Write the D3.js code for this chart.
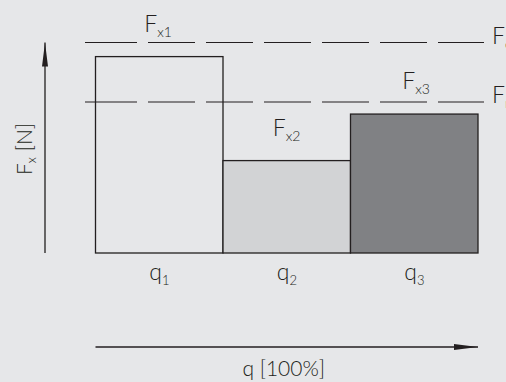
<!DOCTYPE html>
<html><head><meta charset="utf-8">
<script src="https://cdn.jsdelivr.net/npm/d3@7"></script>
<style>
html,body{margin:0;padding:0;background:#e6e7e9;}
svg{display:block;font-family:Lato,"Open Sans",sans-serif;font-weight:300;}
</style></head>
<body><div id="chart"></div>
<script>
const categories = ["q1","q2","q3"];
const catSubs = ["1","2","3"];
const forceValues = [93.3, 43.9, 66.0];
const forceLabels = ["x1","x2","x3"];
const barFills = ["#e6e7e9","#d2d3d5","#808184"];
const refLines = [{name:"c", value:100},{name:"n", value:71.7}];
const yLabel = ["F","x"," [N]"];
const xLabel = "q [100%]";

const W=506,H=382;
const svg=d3.select("#chart").append("svg").attr("width",W).attr("height",H);
svg.append("rect").attr("width",W).attr("height",H).attr("fill","#e6e7e9");

const x=d3.scaleBand().domain(categories).range([95.5,478]).padding(0);
const y=d3.scaleLinear().domain([0,100]).range([253,42.5]);
const ink="#231f20";

// bars
svg.selectAll("rect.bar").data(categories).join("rect").attr("class","bar")
 .attr("x",d=>x(d)).attr("width",x.bandwidth())
 .attr("y",(d,i)=>y(forceValues[i])).attr("height",(d,i)=>y(0)-y(forceValues[i]))
 .attr("fill",(d,i)=>barFills[i]).attr("stroke",ink).attr("stroke-width",1.3);

// reference dashed lines
svg.selectAll("line.ref").data(refLines).join("line").attr("class","ref")
 .attr("x1",85).attr("x2",484).attr("y1",d=>y(d.value)).attr("y2",d=>y(d.value))
 .attr("stroke",ink).attr("stroke-width",1.1)
 .attr("stroke-dasharray","52,11,47,11,47,11,47,11,47,11,47,11,47");
refLines.forEach(d=>{
  const t=svg.append("text").attr("x",492).attr("y",y(d.value)+1).attr("fill",ink).attr("font-size",23);
  t.append("tspan").text("F");
  t.append("tspan").attr("font-size",14).attr("dy",5).text(d.name);
});

// bar force labels
const labelDx=[-1,0,2];
categories.forEach((c,i)=>{
  const cx=x(c)+x.bandwidth()/2;
  const t=svg.append("text").attr("x",cx-14+labelDx[i]).attr("y",y(forceValues[i])-25).attr("fill",ink).attr("font-size",23);
  t.append("tspan").text("F");
  t.append("tspan").attr("font-size",14).attr("dy",5).text(forceLabels[i]);
});

// category labels
categories.forEach((c,i)=>{
  const cx=x(c)+x.bandwidth()/2;
  const t=svg.append("text").attr("x",cx-10).attr("y",280).attr("fill",ink).attr("font-size",23);
  t.append("tspan").text("q");
  t.append("tspan").attr("font-size",13).attr("dy",5).text(catSubs[i]);
});

// arrows
const defs=svg.append("defs");
defs.append("marker").attr("id","ah").attr("viewBox","0 0 24 8").attr("refX",24).attr("refY",4)
 .attr("markerWidth",24).attr("markerHeight",8).attr("markerUnits","userSpaceOnUse").attr("orient","auto")
 .append("path").attr("d","M0,1 L24,4 L0,7 Z").attr("fill",ink);
svg.append("line").attr("x1",45).attr("x2",45).attr("y1",y(0)).attr("y2",y(100)).attr("stroke",ink).attr("stroke-width",1.3).attr("marker-end","url(#ah)");
svg.append("line").attr("x1",x.range()[0]).attr("x2",x.range()[1]).attr("y1",347).attr("y2",347).attr("stroke",ink).attr("stroke-width",1.3).attr("marker-end","url(#ah)");

// axis labels
const yl=svg.append("text").attr("transform","translate(32,149) rotate(-90)").attr("text-anchor","middle").attr("fill",ink).attr("font-size",21);
yl.append("tspan").text(yLabel[0]);
yl.append("tspan").attr("font-size",13).attr("dy",4).text(yLabel[1]);
yl.append("tspan").attr("dy",-4).text(yLabel[2]);
svg.append("text").attr("x",(x.range()[0]+x.range()[1])/2-3).attr("y",376).attr("text-anchor","middle").attr("fill",ink).attr("font-size",21).text(xLabel);
</script></body></html>
